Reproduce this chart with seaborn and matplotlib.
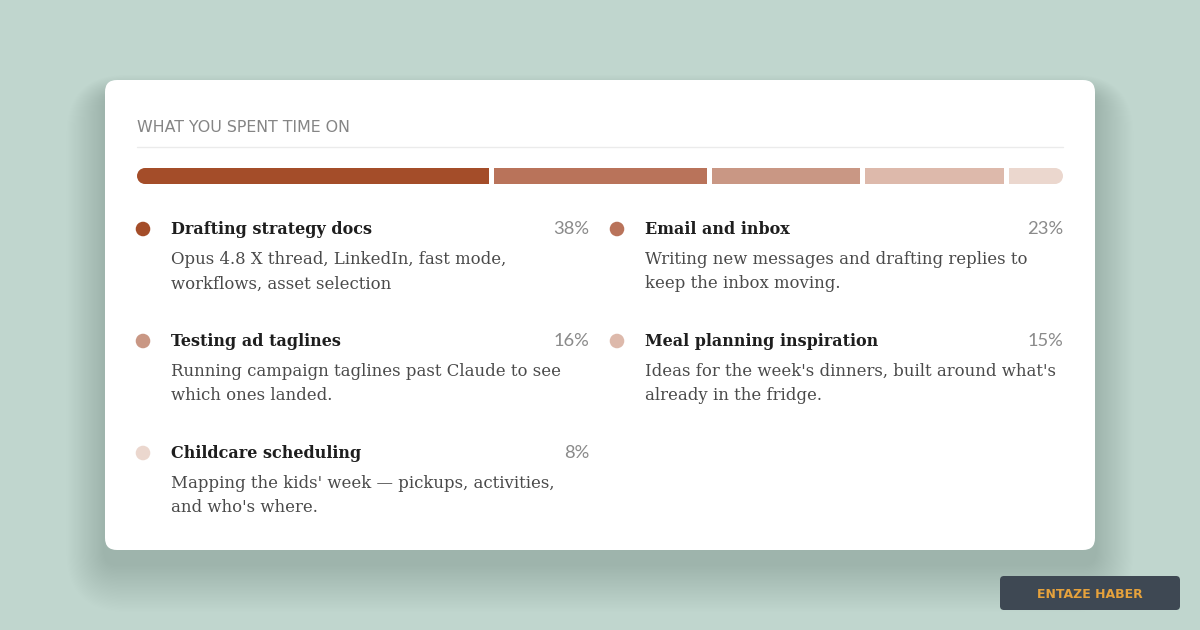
import matplotlib
matplotlib.use("Agg")
import matplotlib.pyplot as plt
from matplotlib.patches import FancyBboxPatch, Circle
import numpy as np
import seaborn as sns

# ---- data ----
categories = ["Drafting strategy docs", "Email and inbox", "Testing ad taglines",
              "Meal planning inspiration", "Childcare scheduling"]
shares = [38, 23, 16, 15, 8]
descriptions = [
    "Opus 4.8 X thread, LinkedIn, fast mode,\nworkflows, asset selection",
    "Writing new messages and drafting replies to\nkeep the inbox moving.",
    "Running campaign taglines past Claude to see\nwhich ones landed.",
    "Ideas for the week's dinners, built around what's\nalready in the fridge.",
    "Mapping the kids' week \u2014 pickups, activities,\nand who's where.",
]
colors = ["#A44D29", "#B9735A", "#C99784", "#DDB9AB", "#EBD7CE"]
header = "WHAT YOU SPENT TIME ON"
badge = "ENTAZE HABER"

sns.set_theme(style="white")
plt.rcParams["font.family"] = ["DejaVu Sans"]

W, H = 1200, 630
BG = "#C0D6CE"
fig = plt.figure(figsize=(12, 6.3), dpi=100, facecolor=BG)
ax = fig.add_axes([0, 0, 1, 1])
ax.set_xlim(0, W)
ax.set_ylim(H, 0)
ax.axis("off")
ax.set_facecolor(BG)

# card shadow (soft, layered)
cx0, cy0, cx1, cy1 = 105, 80, 1095, 550
n = 34
for i in range(n):
    grow = 2 + i * 1.4
    sh = FancyBboxPatch((cx0 - grow * 0.8, cy0 + 14 - grow * 0.4),
                        (cx1 - cx0) + grow * 1.6, (cy1 - cy0) + grow * 1.4,
                        boxstyle="round,pad=0,rounding_size=%.1f" % (12 + grow),
                        fc="#7C968D", ec="none", alpha=0.0045, zorder=1)
    ax.add_patch(sh)
card = FancyBboxPatch((cx0, cy0), cx1 - cx0, cy1 - cy0,
                      boxstyle="round,pad=0,rounding_size=12",
                      fc="white", ec="none", zorder=2)
ax.add_patch(card)

# header
ax.text(137, 128, header, fontsize=11.4, color="#858585", ha="left", va="center",
        family=["DejaVu Sans"], zorder=3)
ax.plot([137, 1063], [147, 147], color="#EBEBEB", lw=1, zorder=3)

# stacked bar in its own axes (1 data unit = 1 px)
bx0, bx1, by0, bh, gap = 137, 1063, 168, 16, 5
total = bx1 - bx0
r = bh / 2
bax = fig.add_axes([bx0 / W, (H - by0 - bh) / H, total / W, bh / H])
bax.set_xlim(0, total)
bax.set_ylim(0, bh)
bax.axis("off")
bax.patch.set_alpha(0)
widths = np.array(shares) / 100.0 * total
lefts = np.concatenate([[0], np.cumsum(widths[:-1] + gap)])
widths = np.minimum(widths, total - lefts)
draw_lefts = lefts.copy()
draw_widths = widths.copy()
draw_lefts[0] += r
draw_widths[0] -= r
draw_widths[-1] -= r
bax.barh([r] * len(shares), draw_widths, left=draw_lefts, height=bh,
         color=colors, linewidth=0, zorder=3)
bax.add_patch(Circle((r, r), r, fc=colors[0], ec="none", zorder=3))
bax.add_patch(Circle((total - r, r), r, fc=colors[-1], ec="none", zorder=3))

# legend entries
col_x = [137, 611]
row_y = [229, 341, 453]
dot_x, dot_y, dot_c = [], [], []
serif = ["DejaVu Serif"]
for k in range(len(categories)):
    cx = col_x[k % 2]
    ry = row_y[k // 2]
    dot_x.append(cx + 6)
    dot_y.append(ry)
    dot_c.append(colors[k])
    ax.text(cx + 34, ry, categories[k], fontsize=11.5, fontweight="bold",
            color="#1E1E1E", ha="left", va="center", family=serif, zorder=3)
    ax.text(cx + 452, ry, f"{shares[k]}%", fontsize=13.2, color="#8A8A8A",
            ha="right", va="center", family=["Lato", "DejaVu Sans"], zorder=3)
    for j, line in enumerate(descriptions[k].split("\n")):
        ax.text(cx + 34, ry + 30 + 25 * j, line, fontsize=11.9, color="#4A4A4A",
                ha="left", va="center", family=serif, zorder=3)

sns.scatterplot(x=dot_x, y=dot_y, hue=list(range(len(dot_x))), palette=dot_c,
                s=110, linewidth=0, legend=False, ax=ax, zorder=4)

# badge
bd = FancyBboxPatch((1000, 576), 180, 34, boxstyle="round,pad=0,rounding_size=4",
                    fc="#3E4853", ec="none", zorder=3)
ax.add_patch(bd)
ax.text(1090, 594, badge, fontsize=9, fontweight="bold", color="#E6A23C",
        ha="center", va="center", zorder=4)

fig.savefig("out.png", dpi=100, facecolor=BG)
